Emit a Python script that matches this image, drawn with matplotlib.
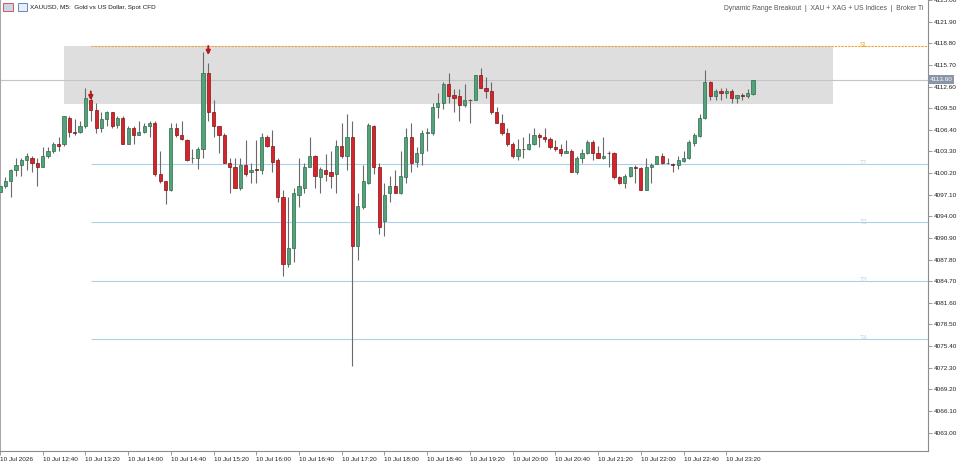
import matplotlib
matplotlib.use("Agg")
import matplotlib.pyplot as plt
from matplotlib.patches import Rectangle
from matplotlib.transforms import blended_transform_factory


# Chart texts
symbol_title = "XAUUSD, M5:  Gold vs US Dollar, Spot CFD"
indicator_title = "Dynamic Range Breakout  |  XAU + XAG + US Indices  |  Broker Ti"

# M5 candles, 10 Jul 12:00 onwards
opens = [
    4097.5, 4098.3, 4099.0, 4100.6, 4101.3, 4102.0, 4102.4, 4101.7, 4101.1, 4102.7,
    4103.3, 4104.3, 4104.3, 4108.1, 4106.1, 4106.1, 4106.9, 4110.7, 4109.2, 4106.7,
    4107.9, 4108.9, 4107.1, 4108.1, 4104.4, 4106.6, 4105.7, 4106.1, 4106.9, 4107.4,
    4100.0, 4099.0, 4097.7, 4106.6, 4105.6, 4105.0, 4102.3, 4102.3, 4103.7, 4114.6,
    4108.9, 4106.9, 4105.7, 4101.7, 4101.1, 4098.1, 4101.4, 4100.3, 4100.8, 4100.6,
    4105.4, 4104.0, 4102.0, 4096.7, 4087.2, 4089.5, 4097.1, 4098.1, 4101.1, 4102.7,
    4099.6, 4100.7, 4100.3, 4100.0, 4104.0, 4102.6, 4105.4, 4089.7, 4095.3, 4098.7,
    4107.0, 4101.1, 4093.3, 4097.4, 4098.4, 4097.3, 4099.6, 4105.4, 4101.8, 4103.1,
    4105.9, 4106.0, 4109.6, 4110.2, 4112.9, 4111.4, 4111.3, 4110.0, 4110.7, 4110.7,
    4114.2, 4112.4, 4112.0, 4108.9, 4107.4, 4106.0, 4104.3, 4102.6, 4103.7, 4103.6,
    4104.3, 4105.6, 4105.4, 4105.1, 4103.9, 4103.7, 4103.1, 4103.4, 4100.4, 4102.4,
    4103.0, 4104.6, 4103.0, 4102.4, 4103.1, 4103.1, 4099.6, 4098.7, 4099.8, 4101.0,
    4100.9, 4097.8, 4101.1, 4101.5, 4102.6, 4101.6, 4101.5, 4101.3, 4101.9, 4102.3,
    4104.5, 4105.5, 4108.1, 4113.3, 4111.2, 4111.9, 4111.7, 4112.0, 4111.0, 4111.4,
    4111.3, 4111.5,
]
highs = [
    4098.6, 4099.6, 4100.8, 4102.3, 4102.3, 4103.1, 4102.7, 4102.3, 4103.9, 4103.9,
    4104.6, 4105.3, 4108.4, 4108.3, 4107.9, 4107.7, 4112.4, 4111.6, 4110.3, 4108.9,
    4109.1, 4109.0, 4108.4, 4108.3, 4107.0, 4107.0, 4107.6, 4107.3, 4107.6, 4107.6,
    4103.3, 4099.1, 4107.3, 4107.4, 4107.7, 4105.1, 4103.6, 4103.9, 4117.5, 4116.0,
    4110.6, 4107.0, 4105.9, 4102.4, 4102.4, 4102.4, 4104.9, 4101.7, 4104.9, 4106.0,
    4105.6, 4106.4, 4102.4, 4097.7, 4096.7, 4098.1, 4102.4, 4101.7, 4105.3, 4102.8,
    4101.0, 4102.9, 4103.3, 4105.0, 4107.4, 4108.7, 4107.6, 4097.3, 4101.4, 4107.3,
    4107.1, 4101.7, 4098.8, 4099.8, 4100.7, 4103.3, 4106.6, 4107.4, 4103.9, 4106.3,
    4106.6, 4110.3, 4111.7, 4113.2, 4114.6, 4112.2, 4112.2, 4113.0, 4110.8, 4114.3,
    4115.3, 4114.0, 4113.3, 4109.6, 4108.7, 4106.7, 4104.6, 4105.1, 4105.3, 4106.0,
    4106.6, 4106.0, 4106.6, 4105.3, 4104.9, 4104.4, 4105.0, 4103.7, 4102.7, 4103.7,
    4104.9, 4104.9, 4104.0, 4105.3, 4103.4, 4103.2, 4099.8, 4100.1, 4101.1, 4101.3,
    4101.1, 4102.3, 4101.6, 4102.6, 4103.0, 4102.4, 4101.7, 4102.7, 4103.4, 4104.9,
    4105.9, 4108.7, 4114.9, 4113.4, 4112.3, 4112.4, 4112.4, 4112.2, 4111.4, 4111.6,
    4112.3, 4113.6,
]
lows = [
    4097.3, 4098.1, 4096.7, 4099.8, 4099.8, 4100.6, 4100.4, 4098.3, 4101.0, 4102.4,
    4103.1, 4103.3, 4104.1, 4105.4, 4105.7, 4106.0, 4106.7, 4107.7, 4106.0, 4106.1,
    4107.0, 4106.7, 4106.7, 4104.3, 4104.3, 4104.4, 4105.6, 4105.9, 4105.3, 4099.8,
    4098.8, 4095.8, 4097.6, 4105.4, 4105.0, 4101.9, 4101.7, 4100.8, 4102.3, 4107.7,
    4105.3, 4103.1, 4101.6, 4097.3, 4098.0, 4097.7, 4099.8, 4098.8, 4098.7, 4100.1,
    4103.9, 4100.4, 4096.0, 4085.5, 4086.7, 4087.4, 4095.3, 4097.3, 4101.0, 4098.1,
    4097.4, 4099.1, 4098.1, 4097.4, 4102.4, 4100.6, 4072.6, 4087.7, 4095.1, 4098.6,
    4100.1, 4091.5, 4091.1, 4096.0, 4097.3, 4097.2, 4098.8, 4100.3, 4101.1, 4101.4,
    4103.4, 4105.6, 4108.1, 4109.4, 4110.3, 4108.9, 4107.7, 4109.6, 4107.3, 4110.6,
    4112.4, 4110.9, 4108.7, 4107.3, 4105.6, 4104.1, 4102.4, 4102.1, 4102.4, 4103.5,
    4104.2, 4103.9, 4104.6, 4103.7, 4103.4, 4102.7, 4103.0, 4100.3, 4100.0, 4101.7,
    4102.9, 4102.1, 4102.3, 4102.2, 4101.1, 4099.4, 4098.6, 4098.0, 4099.6, 4098.7,
    4097.7, 4097.7, 4098.7, 4101.5, 4101.5, 4101.5, 4100.3, 4100.8, 4101.8, 4102.2,
    4104.1, 4105.4, 4108.0, 4110.6, 4110.6, 4110.6, 4110.9, 4110.3, 4110.3, 4110.6,
    4111.0, 4111.4,
]
closes = [
    4098.3, 4099.0, 4100.6, 4101.3, 4102.0, 4102.6, 4101.7, 4101.1, 4102.7, 4103.4,
    4104.4, 4104.1, 4108.3, 4106.1, 4106.0, 4107.0, 4110.9, 4109.2, 4106.7, 4107.9,
    4108.9, 4107.0, 4108.1, 4104.4, 4106.6, 4105.6, 4106.1, 4106.9, 4107.4, 4100.0,
    4099.0, 4097.7, 4106.6, 4105.6, 4105.1, 4102.1, 4102.4, 4103.7, 4114.6, 4108.9,
    4106.9, 4105.7, 4101.7, 4101.1, 4098.1, 4101.4, 4100.1, 4100.6, 4100.6, 4105.4,
    4104.0, 4101.8, 4096.7, 4087.2, 4089.5, 4097.3, 4098.3, 4101.1, 4102.6, 4099.7,
    4100.8, 4100.1, 4099.8, 4104.0, 4102.6, 4105.3, 4089.8, 4095.4, 4099.0, 4107.1,
    4101.1, 4092.5, 4097.1, 4098.4, 4097.3, 4099.7, 4105.4, 4101.7, 4103.1, 4105.9,
    4106.1, 4109.6, 4110.2, 4112.9, 4111.2, 4111.0, 4110.0, 4110.7, 4110.6, 4114.2,
    4112.4, 4112.0, 4108.9, 4107.4, 4106.0, 4104.3, 4102.7, 4103.7, 4103.6, 4104.3,
    4105.6, 4105.3, 4105.1, 4103.9, 4103.6, 4103.1, 4103.4, 4100.4, 4102.4, 4103.1,
    4104.6, 4103.0, 4102.3, 4102.7, 4103.0, 4099.6, 4098.7, 4099.8, 4101.0, 4100.9,
    4097.8, 4101.1, 4101.4, 4102.6, 4101.6, 4101.7, 4101.3, 4102.0, 4102.3, 4104.6,
    4105.6, 4108.1, 4113.3, 4111.2, 4112.0, 4111.6, 4112.0, 4111.0, 4111.4, 4111.3,
    4111.6, 4113.6,
]

# Axis labels
time_labels = [
    "10 Jul 2026", "10 Jul 12:40", "10 Jul 13:20", "10 Jul 14:00", "10 Jul 14:40",
    "10 Jul 15:20", "10 Jul 16:00", "10 Jul 16:40", "10 Jul 17:20", "10 Jul 18:00",
    "10 Jul 18:40", "10 Jul 19:20", "10 Jul 20:00", "10 Jul 20:40", "10 Jul 21:20",
    "10 Jul 22:00", "10 Jul 22:40", "10 Jul 23:20",
]
price_ticks = [
    4063.00, 4066.10, 4069.20, 4072.30, 4075.40, 4078.50, 4081.60, 4084.70,
    4087.80, 4090.90, 4094.00, 4097.10, 4100.20, 4103.30, 4106.40, 4109.50,
    4112.60, 4115.70, 4118.80, 4121.90, 4125.00,
]

# Indicator objects
range_high = 4118.45
range_low = 4110.05
range_bars = [12, 156]
signal_bars = [17, 39]
signal_prices = [4110.6, 4117.1]
sl_level = 4118.45
tp_levels = [4101.5, 4093.15, 4084.75, 4076.45]
tp_names = ["T1", "T2", "T3", "T4"]
last_price = 4113.60

BULL = "#52a27a"
BULL_EDGE = "#2d6b4b"
BEAR = "#d9232b"
BEAR_EDGE = "#7c1414"
WICK = "#6a6a6a"
FONT = "Liberation Sans"


def main():
    fig = plt.figure(figsize=(9.6, 4.63), dpi=100)
    ax = fig.add_axes([0.0, 12 / 463, 928 / 960, 451 / 463])

    # range box
    ax.add_patch(Rectangle((range_bars[0], range_low), range_bars[1] - range_bars[0],
                           range_high - range_low, facecolor="#dedede",
                           edgecolor="none", zorder=0))

    # current price line
    ax.axhline(last_price, color="#c4c4c4", lw=0.8, zorder=1)

    # SL and TP lines
    xmax = 928 / 5.34
    ax.hlines(sl_level, signal_bars[0], xmax, colors="#f0a030", lw=0.8,
              linestyles=(0, (2, 1)), zorder=1)
    ax.text(161, sl_level, "SL", color="#f0a030", fontsize=4.8, family=FONT,
            va="center", ha="left")
    for name, lvl in zip(tp_names, tp_levels):
        ax.hlines(lvl, signal_bars[0], xmax, colors="#a9d2e8", lw=0.8, zorder=1)
        ax.text(161, lvl, name, color="#b9dcec", fontsize=4.8, family=FONT,
                va="center", ha="left")

    # candles
    for i, (o, h, l, c) in enumerate(zip(opens, highs, lows, closes)):
        up = c >= o
        ax.vlines(i, l, h, colors=WICK, lw=0.8, zorder=2)
        ax.bar(i, max(abs(c - o), 0.02), bottom=min(o, c), width=0.6,
               color=BULL if up else BEAR, edgecolor=BULL_EDGE if up else BEAR_EDGE,
               linewidth=0.5, zorder=3)

    # breakout arrows
    for b, p in zip(signal_bars, signal_prices):
        ax.annotate("", xy=(b, p), xytext=(b, p + 1.3),
                    arrowprops=dict(arrowstyle="-|>", color="#b51a1a", lw=1.4,
                                    mutation_scale=6, shrinkA=0, shrinkB=0),
                    zorder=5)

    ax.set_xlim(0, xmax)
    ax.set_ylim(4060.35, 4125.0)

    # axes styling
    ax.spines["top"].set_visible(False)
    ax.spines["left"].set_color("#a8a8a8")
    ax.spines["bottom"].set_color("#8c8c8c")
    ax.spines["right"].set_color("#8c8c8c")
    for s in ax.spines.values():
        s.set_linewidth(0.8)

    ax.set_xticks(range(0, 8 * len(time_labels), 8))
    ax.set_xticklabels(time_labels, ha="left", fontsize=4.6, family=FONT, color="#222222")
    ax.yaxis.tick_right()
    ax.set_yticks(price_ticks)
    ax.set_yticklabels([f"{p:.2f}" for p in price_ticks], fontsize=4.6, family=FONT,
                       color="#222222")
    ax.tick_params(axis="x", length=3, width=0.6, color="#8c8c8c", pad=1.5)
    ax.tick_params(axis="y", length=3, width=0.6, color="#8c8c8c", pad=1.5)

    # last price tag on the price scale
    trans = blended_transform_factory(ax.transAxes, ax.transData)
    ax.text(1.002, last_price, f"{last_price:.2f}", transform=trans, fontsize=4.6,
            family=FONT, color="white", va="center", ha="left", zorder=6,
            bbox=dict(boxstyle="square,pad=0.25", facecolor="#8896a6", edgecolor="none"))

    # header
    fig.patches.append(Rectangle((3 / 960, 1 - 11 / 463), 10 / 960, 8 / 463,
                                 transform=fig.transFigure, facecolor="#c9d6e6",
                                 edgecolor="#d04040", lw=0.6))
    fig.patches.append(Rectangle((18 / 960, 1 - 11 / 463), 9 / 960, 8 / 463,
                                 transform=fig.transFigure, facecolor="#e8eef6",
                                 edgecolor="#4a78b8", lw=0.6))
    fig.text(30 / 960, 1 - 7 / 463, symbol_title, fontsize=4.6, family=FONT,
             color="#1a1a1a", va="center", ha="left")
    fig.text(924 / 960, 1 - 8 / 463, indicator_title, fontsize=4.9, family=FONT,
             color="#555555", va="center", ha="right")

    fig.savefig("out.png", dpi=100, facecolor="white")


if __name__ == "__main__":
    main()
